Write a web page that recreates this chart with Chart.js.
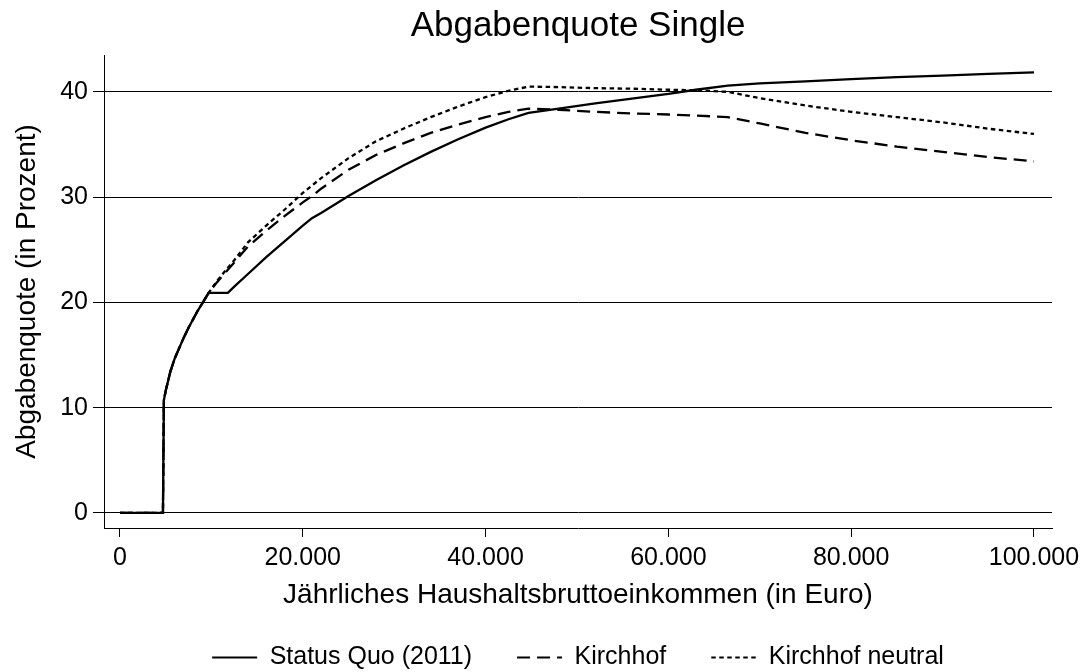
<!DOCTYPE html>
<html>
<head>
<meta charset="utf-8">
<script src="https://cdn.jsdelivr.net/npm/chart.js@4/dist/chart.umd.min.js"></script>
<style>
  html, body { margin: 0; padding: 0; background: #fff; }
  #wrap { width: 1086px; height: 672px; }
</style>
</head>
<body>
<div id="wrap"><canvas id="c" width="1086" height="672"></canvas></div>
<script>
// ---- data ----
const titleText = "Abgabenquote Single";
const xTitle = "Jährliches Haushaltsbruttoeinkommen (in Euro)";
const yTitle = "Abgabenquote (in Prozent)";
const seriesNames = ["Status Quo (2011)", "Kirchhof", "Kirchhof neutral"];

const income = [0, 4700, 4800, 5000, 5500, 6000, 6500, 7000, 7500, 8000, 8500, 9000, 9700, 10500, 11800, 12500, 14000, 16000, 18000, 20000, 21000, 22000, 25000, 28000, 31000, 34000, 37000, 40000, 42500, 44700, 48000, 52000, 56000, 60000, 63000, 66500, 70000, 75000, 80000, 85000, 90000, 95000, 100000];

const statusQuo = [0, 0, 10.7, 11.6, 13.4, 14.7, 15.7, 16.7, 17.6, 18.4, 19.2, 19.9, 20.9, 20.9, 20.9, 21.5, 22.7, 24.3, 25.8, 27.3, 28.0, 28.5, 30.1, 31.6, 33.0, 34.3, 35.5, 36.6, 37.4, 38.0, 38.4, 38.9, 39.35, 39.8, 40.2, 40.6, 40.8, 41.0, 41.2, 41.4, 41.55, 41.7, 41.85];

const kirchhof = [0, 0, 10.7, 11.6, 13.4, 14.7, 15.7, 16.7, 17.6, 18.4, 19.2, 19.9, 20.9, 21.8, 23.1, 23.8, 25.3, 26.8, 28.2, 29.5, 30.1, 30.8, 32.6, 34.0, 35.1, 36.1, 36.9, 37.6, 38.1, 38.4, 38.3, 38.1, 37.95, 37.85, 37.75, 37.6, 37.0, 36.1, 35.4, 34.8, 34.3, 33.8, 33.4];

const kirchhofNeutral = [0, 0, 10.7, 11.6, 13.4, 14.7, 15.7, 16.7, 17.6, 18.4, 19.2, 19.9, 20.9, 21.9, 23.3, 24.0, 25.7, 27.3, 28.8, 30.4, 31.1, 31.8, 33.7, 35.3, 36.5, 37.6, 38.6, 39.5, 40.1, 40.5, 40.45, 40.35, 40.3, 40.2, 40.15, 40.0, 39.4, 38.7, 38.1, 37.6, 37.1, 36.5, 36.0];

const xTicks = [0, 20000, 40000, 60000, 80000, 100000];
const yTicks = [0, 10, 20, 30, 40];

// ---- chart ----
const FONT = "'Liberation Sans', Arial, Helvetica, sans-serif";
const toPts = arr => arr.map((v, i) => ({ x: income[i], y: v }));
const fmtThousands = v => String(v).replace(/\B(?=(\d{3})+(?!\d))/g, ".");

const lineBase = { borderColor: "#000", backgroundColor: "#000", borderWidth: 2.3, pointRadius: 0, tension: 0, fill: false };

new Chart(document.getElementById("c"), {
  type: "line",
  data: {
    datasets: [
      Object.assign({ label: seriesNames[0], data: toPts(statusQuo), borderDash: [] }, lineBase),
      Object.assign({ label: seriesNames[1], data: toPts(kirchhof), borderDash: [13, 7] }, lineBase),
      Object.assign({ label: seriesNames[2], data: toPts(kirchhofNeutral), borderDash: [4.5, 3.5] }, lineBase)
    ]
  },
  options: {
    responsive: false,
    animation: false,
    devicePixelRatio: 1,
    layout: { padding: { top: 0, left: 0, right: 34, bottom: 0 } },
    plugins: {
      title: {
        display: true, text: titleText, color: "#000", fullSize: false,
        font: { family: FONT, size: 35, weight: "normal" },
        padding: { top: 5, bottom: 8 }
      },
      legend: {
        display: true, position: "bottom", fullSize: false, maxHeight: 72,
        labels: {
          color: "#000", font: { family: FONT, size: 25 },
          usePointStyle: true, pointStyle: "line", pointStyleWidth: 45,
          padding: 45,
          generateLabels: chart => chart.data.datasets.map((ds, i) => ({
            text: ds.label, fillStyle: "#000", strokeStyle: "#000", fontColor: "#000",
            lineWidth: 2, lineDash: ds.borderDash, lineCap: "butt",
            pointStyle: "line", datasetIndex: i, hidden: false
          }))
        }
      },
      tooltip: { enabled: false }
    },
    scales: {
      x: {
        type: "linear", min: -1750, max: 101970,
        afterBuildTicks: s => { s.ticks = xTicks.map(v => ({ value: v })); },
        afterFit: s => { s.height = 72; s.paddingLeft = 0; s.paddingRight = 0; },
        ticks: { color: "#000", font: { family: FONT, size: 25 }, padding: 6, maxRotation: 0, autoSkip: false,
                 callback: v => fmtThousands(v) },
        grid: { drawOnChartArea: false, drawTicks: true, tickLength: 9, color: "#000", lineWidth: 1 },
        border: { display: true, color: "#000", width: 1 },
        title: { display: true, text: xTitle, color: "#000", font: { family: FONT, size: 28 }, padding: { top: 0, bottom: -12 } }
      },
      y: {
        type: "linear", min: -1.43, max: 43.5,
        afterBuildTicks: s => { s.ticks = yTicks.map(v => ({ value: v })); },
        afterFit: s => { s.width = 104; s.paddingTop = 0; s.paddingBottom = 0; },
        ticks: { color: "#000", font: { family: FONT, size: 25 }, padding: 5, autoSkip: false },
        grid: { drawOnChartArea: true, drawTicks: true, tickLength: 11, color: "#000", lineWidth: 1 },
        border: { display: true, color: "#000", width: 1 },
        title: { display: true, text: yTitle, color: "#000", font: { family: FONT, size: 28 }, padding: { top: 10, bottom: 0 } }
      }
    }
  }
});
</script>
</body>
</html>
